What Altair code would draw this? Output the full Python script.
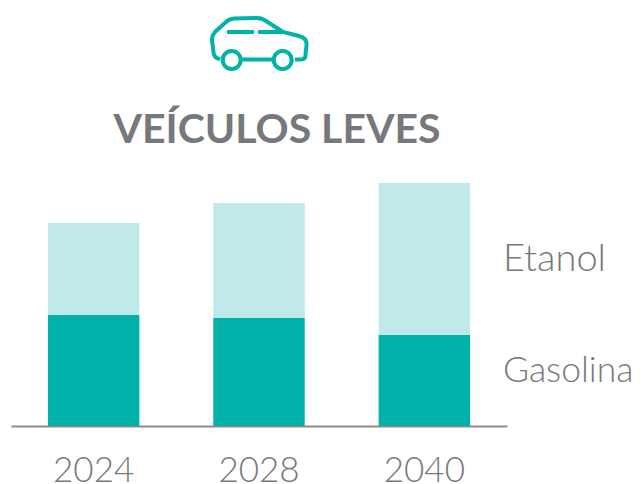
import altair as alt
import pandas as pd

years = ["2024", "2028", "2040"]
gasolina = [111, 108, 91]
etanol = [92, 115, 152]
series_labels = ["Etanol", "Gasolina"]
title_text = "VEÍCULOS LEVES"

TEAL = "#00b2a9"
LIGHT = "#bfeae9"
GREY = "#77787b"
FONT = "Lato"

rows = []
for y, g, e in zip(years, gasolina, etanol):
    rows.append({"year": y, "series": "Gasolina", "value": g, "rank": 0})
    rows.append({"year": y, "series": "Etanol", "value": e, "rank": 1})
df = pd.DataFrame(rows)

bars = alt.Chart(df).mark_bar().encode(
    x=alt.X("year:N", sort=years, title=None,
            scale=alt.Scale(paddingInner=0.447, paddingOuter=0.2235),
            axis=alt.Axis(labelAngle=0, labelFont=FONT, labelFontSize=35, labelFontWeight=300,
                          labelColor=GREY, tickSize=0, labelPadding=44, domainColor="#8c8c8c",
                          domainWidth=2, labelBaseline="middle")),
    y=alt.Y("value:Q", stack="zero", title=None, axis=None,
            scale=alt.Scale(domain=[0, 243], nice=False)),
    color=alt.Color("series:N", legend=None,
                    scale=alt.Scale(domain=["Gasolina", "Etanol"], range=[TEAL, LIGHT])),
    order=alt.Order("rank:Q"),
)

one = alt.Data(values=[{}])


def label(text, px, py, fs):
    return alt.Chart(one).mark_text(text=text, align="left", baseline="middle", font=FONT,
                                    fontSize=fs, fontWeight=300, color=GREY).encode(
        x=alt.value(px), y=alt.value(py))


heading = alt.Chart(one).mark_text(text=title_text, align="center", baseline="middle", font=FONT,
                                   fontSize=41, fontWeight="bold", color=GREY).encode(
    x=alt.value(266), y=alt.value(-52))

BODY = ("M-39 19.5 L-42 18 Q-45 17 -45.5 12 L-47 0 Q-47.5 -4 -44 -8 L-33 -18 Q-30 -21 -25 -21.5 "
        "L-2 -22 Q3 -22 7 -19 L24 -8 L40 -4 Q48 -2 47.5 5 L46.5 15 Q46.5 19.5 42 19.5 L36 19.5 "
        "M-18 19.5 L14 19.5 M-32 -8 L-5 -8 M-1 -8 L24 -8")


def icon_part(shape, size, px, py):
    return alt.Chart(one).mark_point(shape=shape, size=size, filled=False, color=TEAL,
                                     strokeWidth=4, opacity=1).encode(
        x=alt.value(px), y=alt.value(py))


car = icon_part(BODY, 4, 248, -143)
w1 = icon_part("circle", 324, 220.7, -123)
w2 = icon_part("circle", 324, 271.7, -123)

chart = alt.layer(bars, label(series_labels[0], 492, 77, 38), label(series_labels[1], 492, 188, 35.5),
                  heading, car, w1, w2).properties(
    width=496, height=243,
    padding={"left": 3, "top": 175, "right": 126, "bottom": 58},
    autosize=alt.AutoSizeParams(type="none"),
).configure_view(stroke=None)

chart.save("out.html", embed_options={"renderer": "svg", "actions": False})
